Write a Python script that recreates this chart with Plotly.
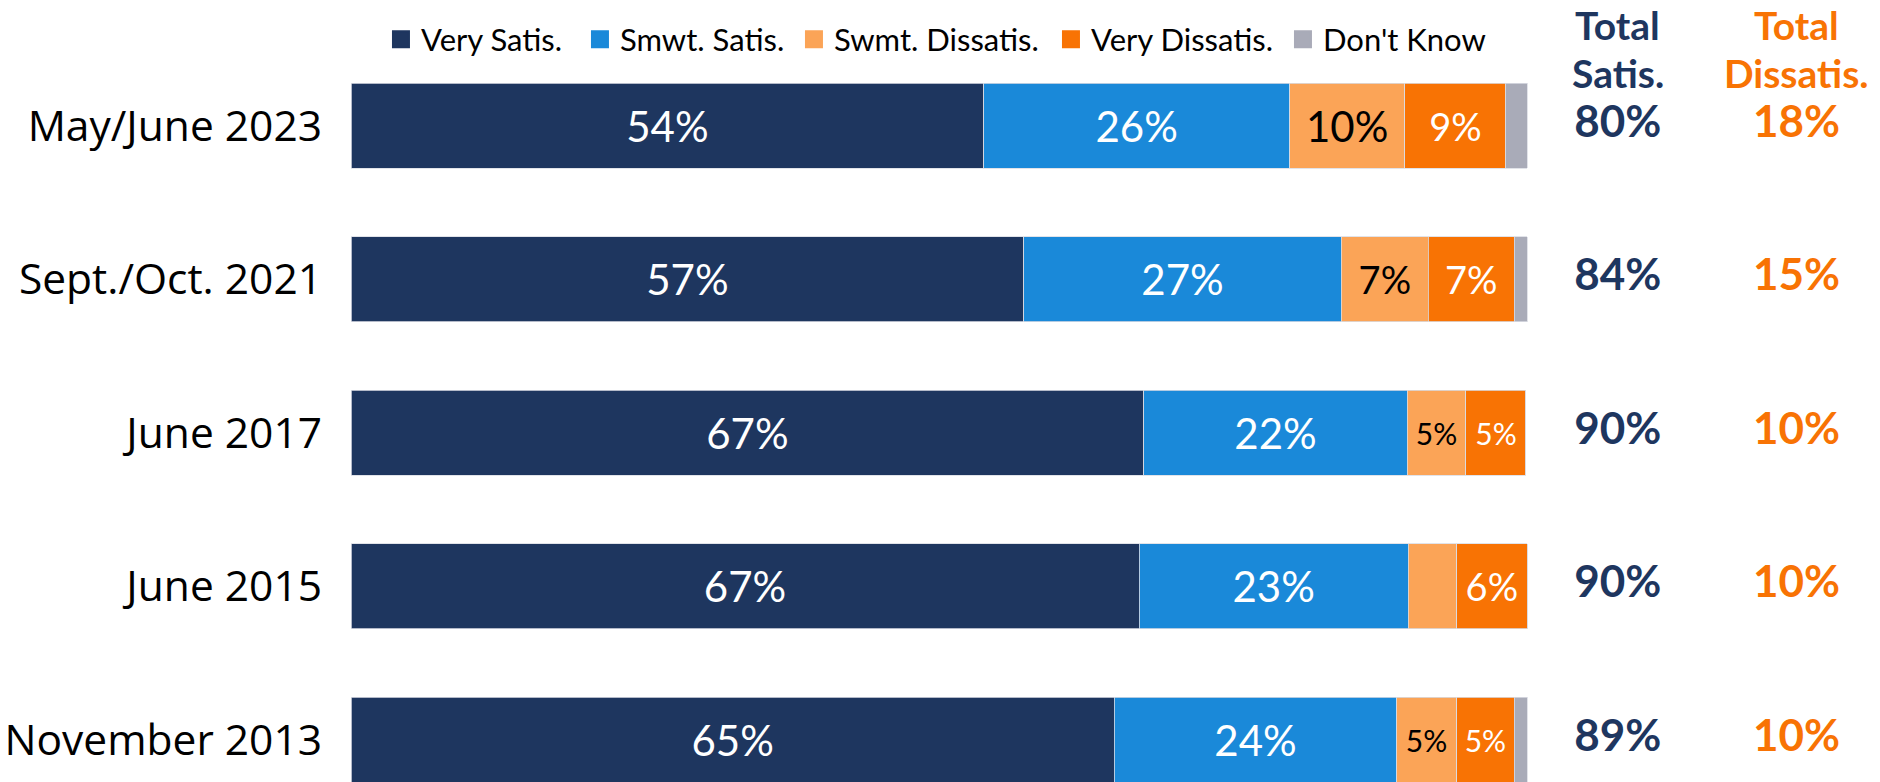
import plotly.graph_objects as go

# survey waves (top to bottom)
periods = ["May/June 2023", "Sept./Oct. 2021", "June 2017", "June 2015", "November 2013"]

# share of respondents, %
very_satis = [53.8, 57.2, 67.4, 67.0, 64.9]
smwt_satis = [26.0, 27.0, 22.4, 22.9, 24.0]
swmt_dissatis = [9.8, 7.4, 5.0, 4.1, 5.1]
very_dissatis = [8.6, 7.3, 5.1, 6.0, 4.9]
dont_know = [1.8, 1.1, 0.0, 0.0, 1.1]

# reported totals
total_satis = [80, 84, 90, 90, 89]
total_dissatis = [18, 15, 10, 10, 10]

NAVY = "#1E365F"
BLUE = "#1A89D9"
LIGHT_ORANGE = "#FBA457"
ORANGE = "#F87304"
GREY = "#A9ABB8"


def labels(vals):
    # tiny segments carry no label
    return [f"{round(v)}%" if v >= 4.5 else "" for v in vals]


def label_sizes(vals):
    out = []
    for v in vals:
        if v >= 9:
            out.append(42)
        elif v >= 6:
            out.append(38)
        else:
            out.append(30)
    return out


# name, values, colour, label colour, labelled?, legend entry width
series = [
    ("Very Satis.", very_satis, NAVY, "white", True, 154),
    ("Smwt. Satis.", smwt_satis, BLUE, "white", True, 169),
    ("Swmt. Dissatis.", swmt_dissatis, LIGHT_ORANGE, "black", True, 212),
    ("Very Dissatis.", very_dissatis, ORANGE, "white", True, 187),
    ("Don't Know", dont_know, GREY, "white", False, 160),
]

fig = go.Figure()
for name, vals, color, txtcolor, show_text, lw in series:
    fig.add_trace(go.Bar(
        name=name, y=periods, x=vals, orientation="h", showlegend=False,
        marker=dict(color=color, line=dict(color="#D9DCE3", width=0.8)),
        text=labels(vals) if show_text else None,
        textposition="inside", insidetextanchor="middle", textangle=0,
        textfont=dict(family="Lato", color=txtcolor, size=label_sizes(vals)),
        hoverinfo="skip",
    ))
    # legend entry with a bigger square swatch
    fig.add_trace(go.Scatter(
        name=name, x=[None], y=[None], mode="markers", legendwidth=lw,
        marker=dict(symbol="square", size=16, color=color, line=dict(color=color, width=2)),
    ))

# total columns to the right of the bars
fig.add_trace(go.Scatter(
    x=[107.7] * len(periods), y=periods, mode="text",
    text=[f"{v}%" for v in total_satis], showlegend=False,
    textfont=dict(family="Lato", size=44, color=NAVY, weight="bold"),
    hoverinfo="skip", cliponaxis=False,
))
fig.add_trace(go.Scatter(
    x=[122.9] * len(periods), y=periods, mode="text",
    text=[f"{v}%" for v in total_dissatis], showlegend=False,
    textfont=dict(family="Lato", size=44, color=ORANGE, weight="bold"),
    hoverinfo="skip", cliponaxis=False,
))

# column headers, one annotation per line to keep the lines tight
head_font = dict(family="Lato", size=39, weight="bold")
for x, lines, color in [(107.7, ["Total", "Satis."], NAVY), (122.9, ["Total", "Dissatis."], ORANGE)]:
    for ypos, txt in zip([0.9680, 0.9066], lines):
        fig.add_annotation(x=x, xref="x", y=ypos, yref="paper", text=txt,
                           showarrow=False, xanchor="center", yanchor="middle",
                           borderpad=0, font=dict(head_font, color=color))

fig.update_layout(
    width=1880, height=782,
    barmode="stack", bargap=0.446,
    plot_bgcolor="white", paper_bgcolor="white",
    margin=dict(l=351, r=0, t=0, b=0),
    legend=dict(orientation="h", x=0.0196, xanchor="left", y=0.9495, yanchor="middle",
                font=dict(family="Lato", size=31, color="black"),
                traceorder="normal", bgcolor="rgba(0,0,0,0)", borderwidth=0),
)
fig.update_xaxes(range=[0, 130], visible=False, showgrid=False, automargin=False)
fig.update_yaxes(categoryorder="array", categoryarray=periods, range=[4.274, -0.819],
                 showgrid=False, zeroline=False, showline=False, ticks="",
                 ticklabelstandoff=28, automargin=False,
                 tickfont=dict(family="Open Sans", size=42.5, color="black"))

# the page body has a default 8px margin; drop it so the figure sits at 0,0
fig.write_html("out.html", config={"displayModeBar": False},
               post_script="document.body.style.margin = '0';")
